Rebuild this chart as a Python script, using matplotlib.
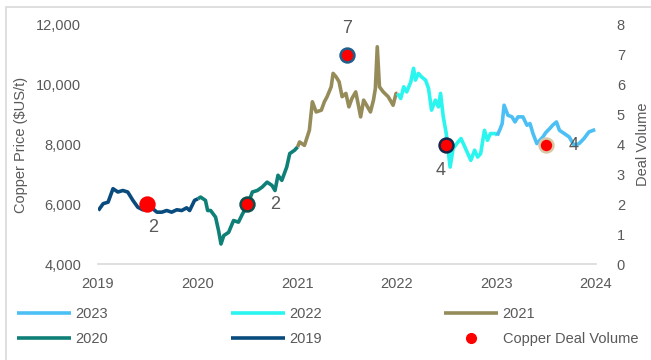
import pandas as pd
import matplotlib
matplotlib.use('Agg')
import matplotlib.pyplot as plt
import matplotlib.dates as mdates
from matplotlib.patches import Rectangle
from matplotlib.lines import Line2D

plt.rcParams['font.family'] = ['Liberation Sans', 'DejaVu Sans']

# Preço do cobre (US$/t) por ano
datas_2019 = ['2019-01-02', '2019-01-20', '2019-02-07', '2019-02-25', '2019-03-15', '2019-04-02',
              '2019-04-20', '2019-05-09', '2019-05-27', '2019-06-14', '2019-06-28', '2019-07-21',
              '2019-08-05', '2019-08-23', '2019-09-10', '2019-09-28', '2019-10-17', '2019-11-04',
              '2019-11-22', '2019-12-03', '2019-12-21']
precos_2019 = [5790, 6020, 6070, 6520, 6410, 6460, 6410, 6130, 5900, 5815, 5850, 5850,
               5735, 5735, 5790, 5735, 5815, 5790, 5880, 5790, 6130]

datas_2020 = ['2020-01-02', '2020-01-12', '2020-01-30', '2020-02-07', '2020-02-18', '2020-03-07',
              '2020-03-18', '2020-03-27', '2020-04-06', '2020-04-24', '2020-05-12', '2020-05-30',
              '2020-06-14', '2020-07-02', '2020-07-20', '2020-08-07', '2020-08-25', '2020-09-12',
              '2020-09-30', '2020-10-11', '2020-10-22', '2020-11-05', '2020-11-23', '2020-12-04',
              '2020-12-22']
precos_2020 = [6180, 6240, 6130, 5790, 5790, 5570, 5120, 4670, 4950, 5060, 5455, 5400,
               5680, 5960, 6410, 6460, 6575, 6740, 6630, 6460, 6970, 6800, 7245, 7695,
               7810]

datas_2021 = ['2021-01-02', '2021-01-09', '2021-01-27', '2021-02-14', '2021-02-25', '2021-03-11',
              '2021-03-30', '2021-04-10', '2021-04-20', '2021-05-05', '2021-05-12', '2021-05-23',
              '2021-06-03', '2021-06-14', '2021-06-28', '2021-07-09', '2021-07-20', '2021-08-03',
              '2021-08-14', '2021-08-21', '2021-09-01', '2021-09-12', '2021-09-26', '2021-10-07',
              '2021-10-14', '2021-10-21', '2021-10-29', '2021-11-12', '2021-11-30', '2021-12-18',
              '2021-12-29']
precos_2021 = [7920, 8085, 7970, 8475, 9430, 9090, 9150, 9430, 9600, 9930, 10380, 10265,
               10100, 9600, 9710, 9260, 9540, 9760, 9260, 8925, 9485, 9315, 9090, 9485,
               9875, 11270, 9930, 9760, 9600, 9315, 9710]

datas_2022 = ['2022-01-03', '2022-01-15', '2022-01-26', '2022-02-06', '2022-02-21', '2022-03-03',
              '2022-03-10', '2022-03-21', '2022-04-01', '2022-04-16', '2022-04-27', '2022-05-08',
              '2022-05-22', '2022-06-02', '2022-06-10', '2022-06-20', '2022-07-01', '2022-07-15',
              '2022-07-26', '2022-08-13', '2022-08-24', '2022-09-07', '2022-09-18', '2022-09-29',
              '2022-10-13', '2022-10-24', '2022-11-04', '2022-11-18', '2022-11-29', '2022-12-10',
              '2022-12-30']
precos_2022 = [9710, 9540, 9930, 9760, 10100, 10550, 10155, 10380, 10265, 10155, 9875, 9150,
               9485, 9260, 9710, 8925, 8365, 7245, 7860, 8085, 8200, 7920, 7695, 7470,
               7810, 7580, 7695, 8475, 8140, 8365, 8365]

datas_2023 = ['2023-01-04', '2023-01-15', '2023-01-22', '2023-01-29', '2023-02-12', '2023-02-27',
              '2023-03-10', '2023-03-21', '2023-04-08', '2023-04-23', '2023-05-04', '2023-05-15',
              '2023-05-29', '2023-06-09', '2023-06-20', '2023-07-01', '2023-07-15', '2023-07-26',
              '2023-08-09', '2023-08-20', '2023-09-07', '2023-09-25', '2023-10-13', '2023-10-31',
              '2023-11-18', '2023-12-06', '2023-12-29']
precos_2023 = [8300, 8530, 8700, 9315, 8980, 8925, 8755, 8925, 8925, 8645, 8700, 8365,
               8030, 8140, 8250, 8400, 8530, 8645, 8755, 8475, 8365, 8250, 7970, 8030,
               8200, 8420, 8500]

# Volume de negócios de cobre (meio de cada ano)
datas_negocios = ['2019-07-01', '2020-07-01', '2021-07-01', '2022-07-01', '2023-07-01']
volume_negocios = [2, 2, 7, 4, 4]

anos = ['2019', '2020', '2021', '2022', '2023']
cores = ['#0a4b7e', '#0f8078', '#968c5a', '#2af5ef', '#4cc0f5']
bordas = ['#ff0000', '#0d4f4c', '#1f5f8b', '#14284a', '#d8c8a8']
deslocamentos = [(4, -17), (20, 0), (0, 19), (-4, -19), (20, -1)]

cinza = '#595959'

fig = plt.figure(figsize=(6.51, 3.6), dpi=100)
ax = fig.add_axes([98 / 651, 1 - 264 / 360, 498 / 651, 239 / 360])
ax2 = ax.twinx()

series = [(datas_2019, precos_2019), (datas_2020, precos_2020), (datas_2021, precos_2021),
          (datas_2022, precos_2022), (datas_2023, precos_2023)]
linhas = {}
for i, (datas, precos) in enumerate(series):
    x = list(pd.to_datetime(datas))
    y = list(precos)
    # liga cada ano ao primeiro ponto do ano seguinte
    if i + 1 < len(series):
        x.append(pd.to_datetime(series[i + 1][0][0]))
        y.append(series[i + 1][1][0])
    linhas[anos[i]], = ax.plot(x, y, color=cores[i], lw=2.6, solid_capstyle='butt',
                               solid_joinstyle='round', zorder=2)

ax.set_xlim(pd.Timestamp('2019-01-01'), pd.Timestamp('2024-01-01'))
ax.set_ylim(4000, 12000)
ax.set_yticks([4000, 6000, 8000, 10000, 12000])
ax.yaxis.set_major_formatter(matplotlib.ticker.FuncFormatter(lambda v, p: f'{v:,.0f}'))
ax.xaxis.set_major_locator(mdates.YearLocator())
ax.xaxis.set_major_formatter(mdates.DateFormatter('%Y'))
ax.set_ylabel('Copper Price ($US/t)', color=cinza, fontsize=10.5, labelpad=6)

ax2.set_ylim(0, 8)
ax2.set_yticks(range(0, 9))
ax2.set_ylabel('Deal Volume', color=cinza, fontsize=10.5, labelpad=8)

for eixo in (ax, ax2):
    for lado in ('top', 'left', 'right', 'bottom'):
        eixo.spines[lado].set_visible(False)
    eixo.tick_params(length=0, labelsize=10.5, labelcolor=cinza)
ax.spines['bottom'].set_visible(True)
ax.spines['bottom'].set_color('#d9d9d9')
ax.spines['bottom'].set_linewidth(1.2)
ax.tick_params(axis='x', pad=9)
ax.tick_params(axis='y', pad=12)
ax2.tick_params(axis='y', pad=15)

xs_neg = pd.to_datetime(datas_negocios)
for xn, v, borda, desl in zip(xs_neg, volume_negocios, bordas, deslocamentos):
    ax2.plot(xn, v, 'o', color='#ff0000', markersize=10, markeredgecolor=borda,
             markeredgewidth=1.8, zorder=5)
    ax2.annotate(str(v), (xn, v), xytext=desl, textcoords='offset points',
                 ha='center', va='center', fontsize=13, color=cinza)

ponto = Line2D([], [], ls='none', marker='o', color='#ff0000', markersize=7)
handles = [linhas['2023'], linhas['2020'], linhas['2022'], linhas['2019'], linhas['2021'], ponto]
labels = ['2023', '2020', '2022', '2019', '2021', 'Copper Deal Volume']
leg = fig.legend(handles, labels, loc='upper left', bbox_to_anchor=(7 / 651, 1 - 297 / 360),
                 ncol=3, frameon=False, fontsize=10.5, handlelength=3.7, handletextpad=0.3,
                 columnspacing=8.4, labelspacing=0.75, borderpad=0.2)
for t in leg.get_texts():
    t.set_color(cinza)

# moldura clara em volta da figura
fig.patches.append(Rectangle((6 / 651, -0.1), 2, 1.1 - 7 / 360, transform=fig.transFigure,
                             fill=False, edgecolor='#d9d9d9', lw=1.2))

fig.savefig('out.png', dpi=100)
